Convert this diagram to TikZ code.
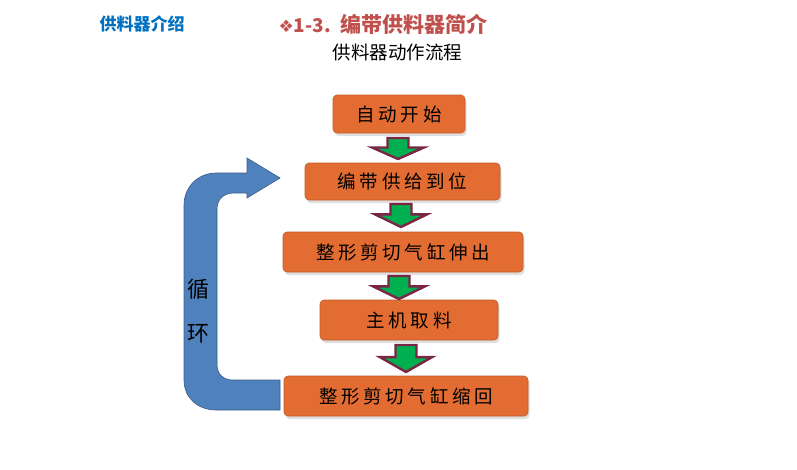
\documentclass[tikz,border=0pt]{standalone}
\usepackage{fontspec}
\setmainfont{Noto Sans CJK SC}
\newfontfamily\cjk{Noto Sans CJK SC}
\newfontfamily\cjkbox[LetterSpace=20]{Noto Sans CJK SC}
\newfontfamily\symfont{DejaVu Sans}
\usetikzlibrary{calc,shadows}
\definecolor{boxorange}{RGB}{226,108,50}
\definecolor{arrowgreen}{RGB}{0,176,80}
\definecolor{arrowmaroon}{RGB}{122,38,68}
\definecolor{loopblue}{RGB}{79,129,189}
\definecolor{loopedge}{RGB}{56,93,138}
\definecolor{titlered}{RGB}{192,80,77}
\definecolor{titleblue}{RGB}{0,112,192}
\tikzset{
  stepbox/.style={draw=boxorange!85!black, line width=0.6pt, fill=boxorange, rounded corners=4pt,
    inner sep=0pt, font=\cjkbox\fontsize{18.5}{18.5}\selectfont, text=black,
    drop shadow={shadow xshift=1.5pt, shadow yshift=-3pt, opacity=0.25}},
  flowarrow/.style={fill=arrowgreen, draw=arrowmaroon, line width=2.4pt, line join=miter},
}
% block arrow: #1 top centre coordinate, #2 bottom tip coordinate
\newcommand{\blockarrow}[2]{%
  \path let \p1=(#1), \p2=(#2), \n1={\y1-\y2} in
    [flowarrow] (\x1-10.5pt,\y1) -- (\x1+10.5pt,\y1) -- (\x1+10.5pt,\y1-0.45*\n1)
    -- (\x1+26pt,\y1-0.45*\n1) -- (\x2,\y2) -- (\x1-26pt,\y1-0.45*\n1)
    -- (\x1-10.5pt,\y1-0.45*\n1) -- cycle;}
\begin{document}
\begin{tikzpicture}[x=1pt,y=-1pt]
\useasboundingbox (0,0) rectangle (797,469);
% titles
\node[anchor=west, text=titleblue, font=\cjk\bfseries\fontsize{17}{17}\selectfont] (t1) at (96,24) {供料器介绍};
\node[anchor=west, text=titlered, font=\cjk\bfseries\fontsize{21}{21}\selectfont] (t2) at (275,24) {{\symfont\fontsize{17}{17}\selectfont ❖}{\fontsize{19}{19}\selectfont 1-3.}\hspace{10pt}编带供料器简介};
\node[anchor=west, text=black, font=\cjk\fontsize{18.5}{18.5}\selectfont] (t3) at (329,52) {供料器动作流程};
% loop arrow
\path[fill=loopblue, draw=loopedge, line width=0.6pt]
  (280,410) -- (216,410) .. controls (198,410) and (184,398) .. (184,380)
  -- (184,205) .. controls (184,187) and (198,173) .. (216,173)
  -- (247,173) -- (247,158) -- (280,178) -- (247,198) -- (247,193)
  -- (234,193) .. controls (224,193) and (217,199) .. (217,209)
  -- (217,364) .. controls (217,374) and (223,380) .. (233,380)
  -- (280,380) -- cycle;
\node[font=\cjk\fontsize{22}{22}\selectfont, text=black] (c1) at (198,289) {循};
\node[font=\cjk\fontsize{22}{22}\selectfont, text=black] (c2) at (198,334) {环};
% boxes
\node[stepbox, minimum width=132pt, minimum height=38pt] (b1) at (399,114) {自动开始};
\node[stepbox, minimum width=195pt, minimum height=37pt] (b2) at (402.5,181.5) {编带供给到位};
\node[stepbox, minimum width=240pt, minimum height=40pt] (b3) at (403,252) {整形剪切气缸伸出};
\node[stepbox, minimum width=178pt, minimum height=40pt] (b4) at (409,320) {主机取料};
\node[stepbox, minimum width=244pt, minimum height=40pt] (b5) at (406,396) {整形剪切气缸缩回};
% arrows
\coordinate (a1s) at (398,138); \coordinate (a1e) at (398,159);
\coordinate (a2s) at (401,204); \coordinate (a2e) at (401,227);
\coordinate (a3s) at (399,276); \coordinate (a3e) at (399,299);
\coordinate (a4s) at (406,345); \coordinate (a4e) at (406,372);
\blockarrow{a1s}{a1e}
\blockarrow{a2s}{a2e}
\blockarrow{a3s}{a3e}
\blockarrow{a4s}{a4e}
\end{tikzpicture}
\end{document}
